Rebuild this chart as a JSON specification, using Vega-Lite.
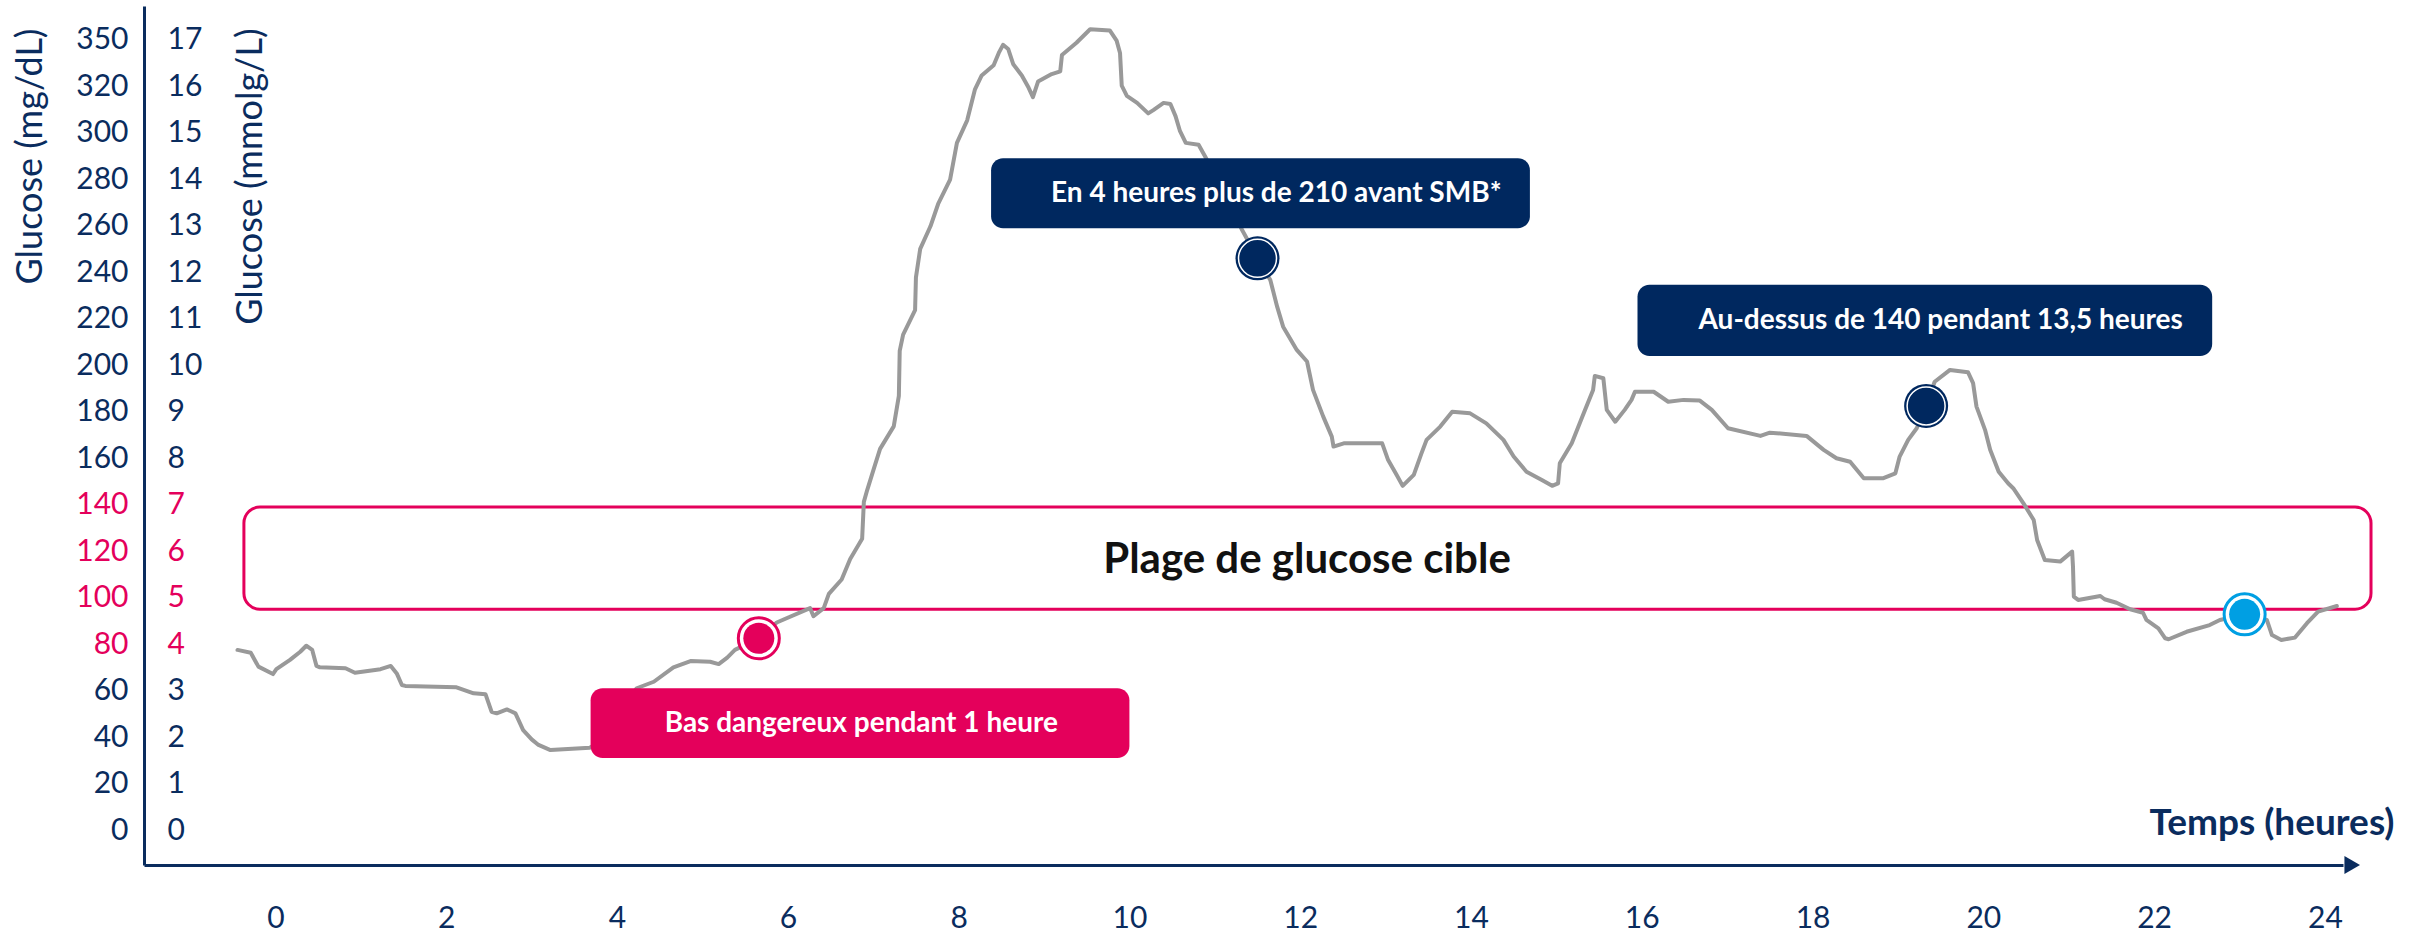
{
  "$schema": "https://vega.github.io/schema/vega-lite/v6.json",
  "width": 2199,
  "height": 859,
  "autosize": {"type": "none"},
  "padding": {"left": 144, "top": 6, "right": 82, "bottom": 72},
  "background": "white",
  "config": {"view": {"stroke": null}, "font": "Lato", "axis": {"grid": false}},
  "resolve": {"axis": {"y": "independent"}},
  "datasets": {
    "glucose": [
      {"h": -0.445, "mg": 77.5}, {"h": -0.29, "mg": 76.3}, {"h": -0.2, "mg": 70.3}, {"h": -0.03, "mg": 67.1},
      {"h": 0.01, "mg": 69.2}, {"h": 0.17, "mg": 73.2}, {"h": 0.29, "mg": 76.7}, {"h": 0.36, "mg": 79.3},
      {"h": 0.43, "mg": 77.5}, {"h": 0.48, "mg": 70.6}, {"h": 0.52, "mg": 70.0}, {"h": 0.82, "mg": 69.6},
      {"h": 0.93, "mg": 67.7}, {"h": 1.23, "mg": 69.2}, {"h": 1.35, "mg": 70.6}, {"h": 1.42, "mg": 67.4},
      {"h": 1.48, "mg": 62.4}, {"h": 1.52, "mg": 62.0}, {"h": 2.12, "mg": 61.4}, {"h": 2.32, "mg": 58.8},
      {"h": 2.46, "mg": 58.4}, {"h": 2.53, "mg": 50.9}, {"h": 2.59, "mg": 50.2}, {"h": 2.71, "mg": 51.9},
      {"h": 2.81, "mg": 50.2}, {"h": 2.9, "mg": 43.0}, {"h": 3.0, "mg": 39.0}, {"h": 3.08, "mg": 36.6},
      {"h": 3.22, "mg": 34.4}, {"h": 3.68, "mg": 35.4}, {"h": 3.9, "mg": 40.0}, {"h": 4.05, "mg": 52.0},
      {"h": 4.23, "mg": 61.0}, {"h": 4.43, "mg": 63.8}, {"h": 4.66, "mg": 70.0}, {"h": 4.86, "mg": 72.7},
      {"h": 5.09, "mg": 72.4}, {"h": 5.19, "mg": 71.4}, {"h": 5.29, "mg": 74.2}, {"h": 5.38, "mg": 77.5},
      {"h": 5.66, "mg": 82.5}, {"h": 5.87, "mg": 89.3}, {"h": 6.26, "mg": 95.5}, {"h": 6.3, "mg": 92.0},
      {"h": 6.42, "mg": 95.5}, {"h": 6.48, "mg": 101.6}, {"h": 6.63, "mg": 107.8}, {"h": 6.73, "mg": 116.6},
      {"h": 6.87, "mg": 125.3}, {"h": 6.89, "mg": 141.2}, {"h": 6.93, "mg": 146.4}, {"h": 7.02, "mg": 157.0},
      {"h": 7.08, "mg": 164.0}, {"h": 7.24, "mg": 173.7}, {"h": 7.3, "mg": 186.8}, {"h": 7.31, "mg": 206.2},
      {"h": 7.35, "mg": 213.2}, {"h": 7.49, "mg": 223.7}, {"h": 7.5, "mg": 237.8}, {"h": 7.55, "mg": 250.1},
      {"h": 7.67, "mg": 259.8}, {"h": 7.76, "mg": 269.4}, {"h": 7.9, "mg": 279.9}, {"h": 7.98, "mg": 295.7},
      {"h": 8.1, "mg": 305.4}, {"h": 8.19, "mg": 318.6}, {"h": 8.27, "mg": 324.7}, {"h": 8.41, "mg": 329.1},
      {"h": 8.47, "mg": 334.4}, {"h": 8.52, "mg": 337.9}, {"h": 8.58, "mg": 336.1}, {"h": 8.64, "mg": 329.5},
      {"h": 8.74, "mg": 324.7}, {"h": 8.82, "mg": 319.4}, {"h": 8.87, "mg": 315.4}, {"h": 8.93, "mg": 322.1},
      {"h": 9.09, "mg": 325.3}, {"h": 9.19, "mg": 326.5}, {"h": 9.21, "mg": 333.5}, {"h": 9.38, "mg": 338.8},
      {"h": 9.54, "mg": 344.6}, {"h": 9.77, "mg": 344.1}, {"h": 9.85, "mg": 339.7}, {"h": 9.89, "mg": 334.4},
      {"h": 9.91, "mg": 320.3}, {"h": 9.97, "mg": 315.9}, {"h": 10.09, "mg": 312.9}, {"h": 10.22, "mg": 308.4},
      {"h": 10.28, "mg": 309.8}, {"h": 10.4, "mg": 312.9}, {"h": 10.48, "mg": 312.4}, {"h": 10.54, "mg": 307.2},
      {"h": 10.59, "mg": 301.0}, {"h": 10.66, "mg": 295.7}, {"h": 10.81, "mg": 294.9}, {"h": 10.89, "mg": 289.6},
      {"h": 11.1, "mg": 275.0}, {"h": 11.32, "mg": 258.2}, {"h": 11.5, "mg": 246.1}, {"h": 11.65, "mg": 236.7},
      {"h": 11.73, "mg": 225.2}, {"h": 11.8, "mg": 216.6}, {"h": 11.96, "mg": 206.6}, {"h": 12.08, "mg": 201.6},
      {"h": 12.15, "mg": 189.4}, {"h": 12.27, "mg": 177.9}, {"h": 12.37, "mg": 169.3}, {"h": 12.39, "mg": 165.0},
      {"h": 12.51, "mg": 166.4}, {"h": 12.96, "mg": 166.4}, {"h": 13.03, "mg": 159.2}, {"h": 13.13, "mg": 152.8},
      {"h": 13.2, "mg": 148.1}, {"h": 13.33, "mg": 152.8}, {"h": 13.42, "mg": 162.1}, {"h": 13.48, "mg": 167.9},
      {"h": 13.64, "mg": 173.6}, {"h": 13.78, "mg": 180.0}, {"h": 13.99, "mg": 179.3}, {"h": 14.18, "mg": 175.0},
      {"h": 14.38, "mg": 167.9}, {"h": 14.5, "mg": 160.7}, {"h": 14.65, "mg": 154.2}, {"h": 14.83, "mg": 150.6},
      {"h": 14.95, "mg": 148.1}, {"h": 15.02, "mg": 149.2}, {"h": 15.04, "mg": 157.8}, {"h": 15.18, "mg": 166.4},
      {"h": 15.32, "mg": 179.3}, {"h": 15.43, "mg": 189.4}, {"h": 15.45, "mg": 195.4}, {"h": 15.55, "mg": 194.4},
      {"h": 15.59, "mg": 180.8}, {"h": 15.69, "mg": 175.7}, {"h": 15.8, "mg": 180.8}, {"h": 15.88, "mg": 185.1},
      {"h": 15.92, "mg": 188.6}, {"h": 16.14, "mg": 188.6}, {"h": 16.31, "mg": 184.3}, {"h": 16.49, "mg": 185.1},
      {"h": 16.68, "mg": 184.8}, {"h": 16.82, "mg": 180.8}, {"h": 17.01, "mg": 172.9}, {"h": 17.39, "mg": 169.6},
      {"h": 17.5, "mg": 171.0}, {"h": 17.93, "mg": 169.6}, {"h": 18.13, "mg": 163.6}, {"h": 18.28, "mg": 160.0},
      {"h": 18.44, "mg": 158.5}, {"h": 18.6, "mg": 151.4}, {"h": 18.83, "mg": 151.4}, {"h": 18.97, "mg": 153.5},
      {"h": 19.02, "mg": 160.7}, {"h": 19.12, "mg": 167.9}, {"h": 19.22, "mg": 172.9}, {"h": 19.33, "mg": 182.5},
      {"h": 19.43, "mg": 192.9}, {"h": 19.61, "mg": 198.0}, {"h": 19.82, "mg": 197.0}, {"h": 19.88, "mg": 192.3},
      {"h": 19.92, "mg": 182.2}, {"h": 20.02, "mg": 172.2}, {"h": 20.08, "mg": 163.6}, {"h": 20.18, "mg": 154.2},
      {"h": 20.29, "mg": 149.2}, {"h": 20.35, "mg": 147.1}, {"h": 20.47, "mg": 140.6}, {"h": 20.59, "mg": 133.4},
      {"h": 20.63, "mg": 124.8}, {"h": 20.72, "mg": 116.2}, {"h": 20.9, "mg": 115.5}, {"h": 21.04, "mg": 119.8},
      {"h": 21.05, "mg": 113.3}, {"h": 21.06, "mg": 100.4}, {"h": 21.11, "mg": 99.0}, {"h": 21.37, "mg": 100.7},
      {"h": 21.42, "mg": 99.3}, {"h": 21.56, "mg": 97.8}, {"h": 21.72, "mg": 95.0}, {"h": 21.87, "mg": 93.5},
      {"h": 21.91, "mg": 90.4}, {"h": 22.05, "mg": 86.8}, {"h": 22.13, "mg": 82.5}, {"h": 22.17, "mg": 82.1},
      {"h": 22.38, "mg": 85.3}, {"h": 22.65, "mg": 88.2}, {"h": 22.77, "mg": 90.4}, {"h": 23.06, "mg": 92.8},
      {"h": 23.32, "mg": 90.4}, {"h": 23.38, "mg": 83.9}, {"h": 23.49, "mg": 81.8}, {"h": 23.65, "mg": 82.8},
      {"h": 23.79, "mg": 89.0}, {"h": 23.92, "mg": 94.0}, {"h": 24.14, "mg": 96.4}
    ],
    "target": [{"x1": -0.37, "x2": 24.54, "lo": 95, "hi": 139}],
    "boxes": [
      {"x1": 3.69, "x2": 10.0, "y1": 31.0, "y2": 61.0, "kind": "low"},
      {"x1": 8.38, "x2": 14.69, "y1": 259.0, "y2": 289.1, "kind": "high"},
      {"x1": 15.95, "x2": 22.68, "y1": 204.0, "y2": 234.6, "kind": "high"}
    ],
    "notes": [
      {"h": 6.86, "mg": 45.5, "text": "Bas dangereux pendant 1 heure"},
      {"h": 11.72, "mg": 273.5, "text": "En 4 heures plus de 210 avant SMB*"},
      {"h": 19.5, "mg": 219.0, "text": "Au-dessus de 140 pendant 13,5 heures"}
    ],
    "rangeLabel": [{"h": 12.08, "mg": 116, "text": "Plage de glucose cible"}],
    "markers": [
      {"h": 5.66, "mg": 82.5, "kind": "low"},
      {"h": 11.5, "mg": 246.0, "kind": "high"},
      {"h": 19.33, "mg": 182.5, "kind": "high"},
      {"h": 23.06, "mg": 92.8, "kind": "target"}
    ],
    "arrow": [{"h": 24.32, "mg": -15.06}]
  },
  "layer": [
    {
      "data": {"name": "target"},
      "mark": {"type": "rect", "cornerRadius": 16, "fill": "white", "stroke": "#e4005b", "strokeWidth": 3},
      "encoding": {
        "x": {"field": "x1", "type": "quantitative", "title": "Temps (heures)", "scale": {"domain": [-1.54, 24.212], "nice": false, "zero": false},
          "axis": {
            "values": [0,2,4,6,8,10,12,14,16,18,20,22,24], "format": "d", "labelFontSize": 30, "labelFont": "Lato", "labelColor": "#0a2c5e",
            "labelPadding": 53, "labelBaseline": "middle", "ticks": false, "tickSize": 0, "domainColor": "#0a2c5e", "domainWidth": 3,
            "grid": false, "labelFlush": false,
            "title": "Temps (heures)", "titleFont": "Lato", "titleFontSize": 37, "titleFontWeight": "bold", "titleColor": "#0a2c5e",
            "titleAlign": "right", "titleBaseline": "alphabetic", "titleX": 2250, "titleY": -31
          }},
        "x2": {"field": "x2"},
        "y": {"field": "lo", "type": "quantitative", "scale": {"domain": [-15.06, 354.6], "nice": false, "zero": false},
          "axis": {
            "orient": "right", "offset": -2189, "values": [0,20,40,60,80,100,120,140,160,180,200,220,240,260,280,300,320,340],
            "labelExpr": "format(datum.value / 20, 'd')", "labelAlign": "left", "labelPadding": 13, "labelFontSize": 30, "labelFont": "Lato",
            "labelColor": {"condition": {"test": "datum.value >= 80 && datum.value <= 140", "value": "#e4005b"}, "value": "#0a2c5e"},
            "ticks": false, "tickSize": 0, "domain": false, "grid": false, "labelFlush": false,
            "title": "Glucose (mmolg/L)", "titleFont": "Lato", "titleFontSize": 36, "titleFontWeight": "normal", "titleColor": "#0a2c5e",
            "titleAngle": 270, "titleAlign": "right", "titleBaseline": "middle", "titleX": 96, "titleY": 22
          }},
        "y2": {"field": "hi"}
      }
    },
    {
      "data": {"name": "glucose"},
      "mark": {"type": "line", "color": "#999999", "strokeWidth": 4, "strokeJoin": "round", "strokeCap": "round"},
      "encoding": {
        "x": {"field": "h", "type": "quantitative", "title": "Temps (heures)", "scale": {"domain": [-1.54, 24.212], "nice": false, "zero": false}},
        "y": {"field": "mg", "type": "quantitative", "scale": {"domain": [-15.06, 354.6], "nice": false, "zero": false},
          "axis": {
            "orient": "left", "values": [0,20,40,60,80,100,120,140,160,180,200,220,240,260,280,300,320,340],
            "labelExpr": "datum.value == 340 ? '350' : datum.label", "labelPadding": 16, "labelFontSize": 30, "labelFont": "Lato",
            "labelColor": {"condition": {"test": "datum.value >= 80 && datum.value <= 140", "value": "#e4005b"}, "value": "#0a2c5e"},
            "ticks": false, "tickSize": 0, "domainColor": "#0a2c5e", "domainWidth": 3, "grid": false, "labelFlush": false,
            "title": "Glucose (mg/dL)", "titleFont": "Lato", "titleFontSize": 36, "titleFontWeight": "normal", "titleColor": "#0a2c5e",
            "titleAngle": 270, "titleAlign": "right", "titleBaseline": "middle", "titleX": -114, "titleY": 22
          }}
      }
    },
    {
      "data": {"name": "boxes"},
      "mark": {"type": "rect", "cornerRadius": 12},
      "encoding": {
        "x": {"field": "x1", "type": "quantitative", "title": "Temps (heures)", "scale": {"domain": [-1.54, 24.212], "nice": false, "zero": false}},
        "x2": {"field": "x2"},
        "y": {"field": "y1", "type": "quantitative", "scale": {"domain": [-15.06, 354.6], "nice": false, "zero": false}, "axis": null},
        "y2": {"field": "y2"},
        "color": {"field": "kind", "type": "nominal", "scale": {"domain": ["low", "high", "target"], "range": ["#e4005b", "#00285f", "#009fe3"]}, "legend": null}
      }
    },
    {
      "data": {"name": "notes"},
      "mark": {"type": "text", "font": "Lato", "fontSize": 28, "fontWeight": "bold", "color": "white", "align": "center", "baseline": "middle"},
      "encoding": {
        "x": {"field": "h", "type": "quantitative", "title": "Temps (heures)", "scale": {"domain": [-1.54, 24.212], "nice": false, "zero": false}},
        "y": {"field": "mg", "type": "quantitative", "scale": {"domain": [-15.06, 354.6], "nice": false, "zero": false}, "axis": null},
        "text": {"field": "text"}
      }
    },
    {
      "data": {"name": "rangeLabel"},
      "mark": {"type": "text", "font": "Lato", "fontSize": 42, "fontWeight": "bold", "color": "#111111", "align": "center", "baseline": "middle"},
      "encoding": {
        "x": {"field": "h", "type": "quantitative", "title": "Temps (heures)", "scale": {"domain": [-1.54, 24.212], "nice": false, "zero": false}},
        "y": {"field": "mg", "type": "quantitative", "scale": {"domain": [-15.06, 354.6], "nice": false, "zero": false}, "axis": null},
        "text": {"field": "text"}
      }
    },
    {
      "data": {"name": "markers"},
      "transform": [{"filter": "datum.kind != 'high'"}],
      "mark": {"type": "circle", "fill": "white", "size": 1681, "strokeWidth": 3, "opacity": 1},
      "encoding": {
        "x": {"field": "h", "type": "quantitative", "title": "Temps (heures)", "scale": {"domain": [-1.54, 24.212], "nice": false, "zero": false}},
        "y": {"field": "mg", "type": "quantitative", "scale": {"domain": [-15.06, 354.6], "nice": false, "zero": false}, "axis": null},
        "stroke": {"field": "kind", "type": "nominal", "scale": {"domain": ["low", "high", "target"], "range": ["#e4005b", "#00285f", "#009fe3"]}, "legend": null}
      }
    },
    {
      "data": {"name": "markers"},
      "transform": [{"filter": "datum.kind != 'high'"}],
      "mark": {"type": "circle", "size": 961, "opacity": 1},
      "encoding": {
        "x": {"field": "h", "type": "quantitative", "title": "Temps (heures)", "scale": {"domain": [-1.54, 24.212], "nice": false, "zero": false}},
        "y": {"field": "mg", "type": "quantitative", "scale": {"domain": [-15.06, 354.6], "nice": false, "zero": false}, "axis": null},
        "color": {"field": "kind", "type": "nominal", "scale": {"domain": ["low", "high", "target"], "range": ["#e4005b", "#00285f", "#009fe3"]}, "legend": null}
      }
    },
    {
      "data": {"name": "markers"},
      "transform": [{"filter": "datum.kind == 'high'"}],
      "mark": {"type": "circle", "size": 1936, "opacity": 1},
      "encoding": {
        "x": {"field": "h", "type": "quantitative", "title": "Temps (heures)", "scale": {"domain": [-1.54, 24.212], "nice": false, "zero": false}},
        "y": {"field": "mg", "type": "quantitative", "scale": {"domain": [-15.06, 354.6], "nice": false, "zero": false}, "axis": null},
        "color": {"field": "kind", "type": "nominal", "scale": {"domain": ["low", "high", "target"], "range": ["#e4005b", "#00285f", "#009fe3"]}, "legend": null}
      }
    },
    {
      "data": {"name": "markers"},
      "transform": [{"filter": "datum.kind == 'high'"}],
      "mark": {"type": "circle", "size": 1444, "opacity": 1, "stroke": "white", "strokeWidth": 1.5},
      "encoding": {
        "x": {"field": "h", "type": "quantitative", "title": "Temps (heures)", "scale": {"domain": [-1.54, 24.212], "nice": false, "zero": false}},
        "y": {"field": "mg", "type": "quantitative", "scale": {"domain": [-15.06, 354.6], "nice": false, "zero": false}, "axis": null},
        "color": {"field": "kind", "type": "nominal", "scale": {"domain": ["low", "high", "target"], "range": ["#e4005b", "#00285f", "#009fe3"]}, "legend": null}
      }
    },
    {
      "data": {"name": "arrow"},
      "mark": {"type": "point", "shape": "triangle-right", "filled": true, "size": 324, "opacity": 1, "color": "#0a2c5e"},
      "encoding": {
        "x": {"field": "h", "type": "quantitative", "title": "Temps (heures)", "scale": {"domain": [-1.54, 24.212], "nice": false, "zero": false}},
        "y": {"field": "mg", "type": "quantitative", "scale": {"domain": [-15.06, 354.6], "nice": false, "zero": false}, "axis": null}
      }
    }
  ]
}
